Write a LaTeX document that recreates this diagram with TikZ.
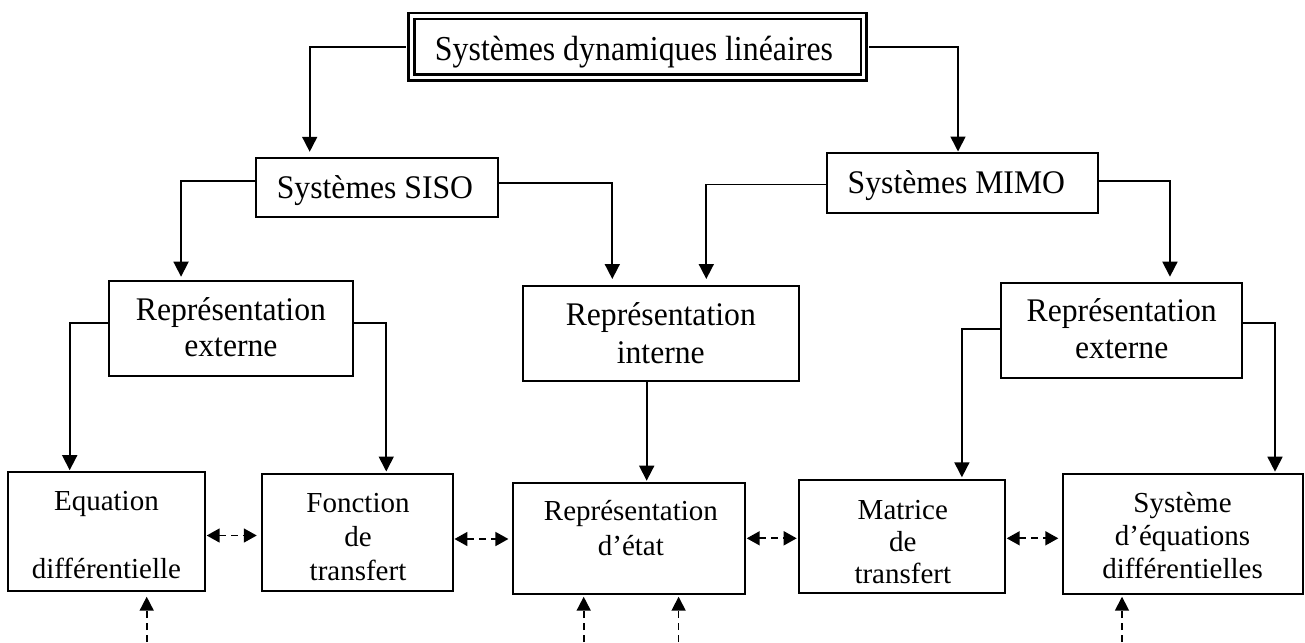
\documentclass[tikz,border=0pt]{standalone}
\usepackage{fontspec}
\setmainfont{Liberation Serif}
\newfontfamily\titlefont{Liberation Serif}[FakeStretch=0.91]
\newfontfamily\midfont{Liberation Serif}[FakeStretch=0.96]
\usetikzlibrary{arrows.meta}
\begin{document}
\begin{tikzpicture}[x=1pt,y=-1pt,
  box/.style={draw,line width=2pt,rectangle,inner sep=0pt},
  tl/.style={anchor=base,align=center,inner sep=0pt,font=\midfont\fontsize{33}{36}\selectfont},
  ts/.style={anchor=base,align=center,inner sep=0pt},
  conn/.style={line width=1.7pt,-{Triangle[length=15pt,width=15pt]}},
  dconn/.style={line width=1.7pt,dash pattern=on 7pt off 5pt,{Triangle[length=13pt,width=14pt]}-{Triangle[length=13pt,width=14pt]}},
  uconn/.style={line width=1.7pt,dash pattern=on 7pt off 5pt,-{Triangle[length=14pt,width=14pt]}}]
\useasboundingbox (0,0) rectangle (1305,642);
% boxes
\node[box,double,line width=2.6pt,double distance=3.3pt,minimum width=452.5pt,minimum height=61.4pt] (sys) at (637.5,46.7) {};
\node[box,minimum width=242.5pt,minimum height=58.4pt] (siso) at (376.75,187.5) {};
\node[box,minimum width=271.4pt,minimum height=59.7pt] (mimo) at (962.3,182.85) {};
\node[box,minimum width=244pt,minimum height=95pt] (rel) at (230.65,328.5) {};
\node[box,minimum width=276.3pt,minimum height=95pt] (rin) at (660.85,333.5) {};
\node[box,minimum width=241pt,minimum height=95.6pt] (rer) at (1121.75,330.5) {};
\node[box,minimum width=196.6pt,minimum height=119.3pt] (eq) at (106.7,531.35) {};
\node[box,minimum width=191pt,minimum height=116.7pt] (fct) at (357.25,532.35) {};
\node[box,minimum width=232.6pt,minimum height=111.6pt] (etat) at (629.1,538.5) {};
\node[box,minimum width=206pt,minimum height=113.3pt] (mat) at (902,536.65) {};
\node[box,minimum width=240.4pt,minimum height=120pt] (syseq) at (1183.2,534.3) {};
% texts (base anchor = baseline of the last line)
\node[tl,font=\titlefont\fontsize{35}{38}\selectfont] (tsys) at (634,60) {Systèmes dynamiques linéaires};
\node[tl] (tsiso) at (375,198.3) {Systèmes SISO};
\node[tl] (tmimo) at (956.4,193.3) {Systèmes MIMO};
\node[tl,font=\midfont\fontsize{33}{36.7}\selectfont] (trel) at (230.9,356.7) {Représentation\\externe};
\node[tl,font=\midfont\fontsize{33}{38.3}\selectfont] (trin) at (660.8,363.3) {Représentation\\interne};
\node[tl,font=\midfont\fontsize{33}{36.6}\selectfont] (trer) at (1121.7,358.3) {Représentation\\externe};
\node[ts,font=\fontsize{29}{34}\selectfont] (teq) at (106.4,578.3) {Equation\\[33.6pt]différentielle};
\node[ts,font=\fontsize{29}{33.7}\selectfont] (tfct) at (358,580) {Fonction\\de\\transfert};
\node[ts,font=\fontsize{29}{35}\selectfont] (tetat) at (630.9,555) {Représentation\\d’état};
\node[ts,font=\fontsize{29}{32}\selectfont] (tmat) at (902.8,583.3) {Matrice\\de\\transfert};
\node[ts,font=\fontsize{29}{32.8}\selectfont] (tsyseq) at (1182.5,578.3) {Système\\d’équations\\différentielles};
% solid connectors
\draw[conn,shorten <=4.25pt,shorten >=5.5pt] (sys.west) -| ([xshift=55.2pt]siso.north west);
\draw[conn,shorten <=4.25pt,shorten >=0.5pt] (sys.east) -| ([xshift=132.4pt]mimo.north west);
\draw[conn,shorten >=3.3pt] ([yshift=6.5pt]siso.west) -| ([xshift=73.4pt]rel.north west);
\draw[conn,shorten >=6pt] ([yshift=4.8pt]siso.east) -| ([xshift=90.6pt]rin.north west);
\draw[conn,shorten >=6pt] ([yshift=-1.5pt]mimo.west) -| ([xshift=184.6pt]rin.north west);
\draw[conn,shorten >=5pt] ([yshift=1.9pt]mimo.east) -| ([xshift=169.7pt]rer.north west);
\draw[conn,shorten >=0.5pt] ([yshift=5.8pt]rel.west) -| ([xshift=62.3pt]eq.north west);
\draw[conn,shorten >=1.5pt] ([yshift=5.8pt]rel.east) -| ([xshift=125.5pt]fct.north west);
\draw[conn,shorten >=1pt] ([xshift=-14.15pt]rin.south) -- ([xshift=-14.15pt]rin.south |- etat.north);
\draw[conn,shorten >=1.7pt] ([yshift=1.5pt]rer.west) -| ([xshift=163.9pt]mat.north west);
\draw[conn,shorten >=1.6pt] ([yshift=7.8pt]rer.east) -| ([xshift=213pt]syseq.north west);
% dashed double arrows
\draw[dconn,shorten <=0.7pt,shorten >=4pt] ([yshift=-4.15pt]eq.east) -- ([yshift=-4.15pt]eq.east -| fct.west);
\draw[dconn,shorten <=0.7pt,shorten >=3.4pt] ([yshift=-6.65pt]fct.east) -- ([yshift=-6.65pt]fct.east -| etat.west);
\draw[dconn,shorten <=0.3pt,shorten >=1.3pt] ([yshift=0.2pt]etat.east) -- ([yshift=0.2pt]etat.east -| mat.west);
\draw[dconn,shorten <=0.7pt,shorten >=3.7pt] ([yshift=-1.65pt]mat.east) -- ([yshift=-1.65pt]mat.east -| syseq.west);
% dashed arrows from below
\coordinate (b1) at (146.7,642);
\coordinate (b2) at (583.7,642);
\coordinate (b3) at (678.6,642);
\coordinate (b4) at (1122,642);
\draw[uconn,shorten >=4.7pt] (b1) -- (b1 |- eq.south);
\draw[uconn,shorten >=1.4pt] (b2) -- (b2 |- etat.south);
\draw[uconn,shorten >=1.4pt] (b3) -- (b3 |- etat.south);
\draw[uconn,shorten >=1.4pt] (b4) -- (b4 |- syseq.south);
\end{tikzpicture}
\end{document}
